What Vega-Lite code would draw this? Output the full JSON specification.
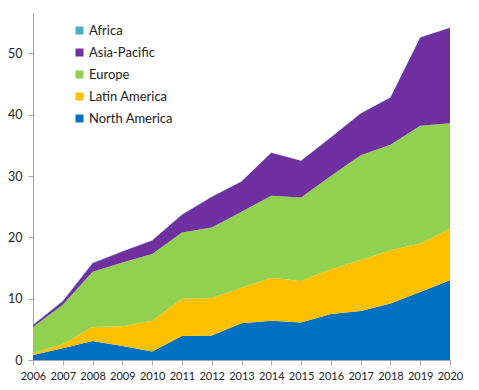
{
  "$schema": "https://vega.github.io/schema/vega-lite/v6.json",
  "width": 417,
  "height": 347,
  "autosize": "none",
  "padding": {"left": 33, "top": 13, "right": 29, "bottom": 30},
  "background": "white",
  "config": {"view": {"stroke": null}, "font": "Lato"},
  "data": {"values": [
    {"year": 2006, "region": "North America", "value": 0.8},
    {"year": 2007, "region": "North America", "value": 1.9},
    {"year": 2008, "region": "North America", "value": 3.1},
    {"year": 2009, "region": "North America", "value": 2.3},
    {"year": 2010, "region": "North America", "value": 1.4},
    {"year": 2011, "region": "North America", "value": 3.9},
    {"year": 2012, "region": "North America", "value": 4.0},
    {"year": 2013, "region": "North America", "value": 6.0},
    {"year": 2014, "region": "North America", "value": 6.4},
    {"year": 2015, "region": "North America", "value": 6.1},
    {"year": 2016, "region": "North America", "value": 7.5},
    {"year": 2017, "region": "North America", "value": 8.0},
    {"year": 2018, "region": "North America", "value": 9.2},
    {"year": 2019, "region": "North America", "value": 11.1},
    {"year": 2020, "region": "North America", "value": 13.0},
    {"year": 2006, "region": "Latin America", "value": 0.3},
    {"year": 2007, "region": "Latin America", "value": 0.7},
    {"year": 2008, "region": "Latin America", "value": 2.3},
    {"year": 2009, "region": "Latin America", "value": 3.2},
    {"year": 2010, "region": "Latin America", "value": 5.0},
    {"year": 2011, "region": "Latin America", "value": 6.1},
    {"year": 2012, "region": "Latin America", "value": 6.1},
    {"year": 2013, "region": "Latin America", "value": 5.8},
    {"year": 2014, "region": "Latin America", "value": 7.0},
    {"year": 2015, "region": "Latin America", "value": 6.8},
    {"year": 2016, "region": "Latin America", "value": 7.3},
    {"year": 2017, "region": "Latin America", "value": 8.3},
    {"year": 2018, "region": "Latin America", "value": 8.7},
    {"year": 2019, "region": "Latin America", "value": 7.9},
    {"year": 2020, "region": "Latin America", "value": 8.4},
    {"year": 2006, "region": "Europe", "value": 4.3},
    {"year": 2007, "region": "Europe", "value": 6.4},
    {"year": 2008, "region": "Europe", "value": 9.0},
    {"year": 2009, "region": "Europe", "value": 10.4},
    {"year": 2010, "region": "Europe", "value": 10.9},
    {"year": 2011, "region": "Europe", "value": 10.8},
    {"year": 2012, "region": "Europe", "value": 11.5},
    {"year": 2013, "region": "Europe", "value": 12.4},
    {"year": 2014, "region": "Europe", "value": 13.4},
    {"year": 2015, "region": "Europe", "value": 13.6},
    {"year": 2016, "region": "Europe", "value": 15.2},
    {"year": 2017, "region": "Europe", "value": 17.1},
    {"year": 2018, "region": "Europe", "value": 17.2},
    {"year": 2019, "region": "Europe", "value": 19.2},
    {"year": 2020, "region": "Europe", "value": 17.2},
    {"year": 2006, "region": "Asia-Pacific", "value": 0.3},
    {"year": 2007, "region": "Asia-Pacific", "value": 0.6},
    {"year": 2008, "region": "Asia-Pacific", "value": 1.4},
    {"year": 2009, "region": "Asia-Pacific", "value": 1.8},
    {"year": 2010, "region": "Asia-Pacific", "value": 2.2},
    {"year": 2011, "region": "Asia-Pacific", "value": 2.9},
    {"year": 2012, "region": "Asia-Pacific", "value": 5.0},
    {"year": 2013, "region": "Asia-Pacific", "value": 4.9},
    {"year": 2014, "region": "Asia-Pacific", "value": 7.0},
    {"year": 2015, "region": "Asia-Pacific", "value": 6.0},
    {"year": 2016, "region": "Asia-Pacific", "value": 6.3},
    {"year": 2017, "region": "Asia-Pacific", "value": 6.8},
    {"year": 2018, "region": "Asia-Pacific", "value": 7.7},
    {"year": 2019, "region": "Asia-Pacific", "value": 14.4},
    {"year": 2020, "region": "Asia-Pacific", "value": 15.6},
    {"year": 2006, "region": "Africa", "value": 0.05},
    {"year": 2007, "region": "Africa", "value": 0.05},
    {"year": 2008, "region": "Africa", "value": 0.05},
    {"year": 2009, "region": "Africa", "value": 0.05},
    {"year": 2010, "region": "Africa", "value": 0.05},
    {"year": 2011, "region": "Africa", "value": 0.05},
    {"year": 2012, "region": "Africa", "value": 0.05},
    {"year": 2013, "region": "Africa", "value": 0.05},
    {"year": 2014, "region": "Africa", "value": 0.05},
    {"year": 2015, "region": "Africa", "value": 0.05},
    {"year": 2016, "region": "Africa", "value": 0.05},
    {"year": 2017, "region": "Africa", "value": 0.05},
    {"year": 2018, "region": "Africa", "value": 0.05},
    {"year": 2019, "region": "Africa", "value": 0.05},
    {"year": 2020, "region": "Africa", "value": 0.05}
  ]},
  "mark": {"type": "area", "interpolate": "linear"},
  "encoding": {
    "x": {
      "field": "year", "type": "quantitative",
      "scale": {"domain": [2006, 2020], "nice": false, "zero": false},
      "axis": {
        "title": null, "values": [2006,2007,2008,2009,2010,2011,2012,2013,2014,2015,2016,2017,2018,2019,2020],
        "format": "d", "grid": false, "domainColor": "#A6A6A6", "tickColor": "#A6A6A6",
        "tickSize": 5, "labelFontSize": 11, "labelColor": "#222222", "labelPadding": 5,
        "labelFlush": false, "labelOverlap": false
      }
    },
    "y": {
      "field": "value", "type": "quantitative", "stack": "zero",
      "scale": {"domain": [0, 56.6], "nice": false},
      "axis": {
        "title": null, "values": [0,10,20,30,40,50], "grid": false,
        "domainColor": "#A6A6A6", "tickColor": "#A6A6A6", "tickSize": 5,
        "labelFontSize": 12.5, "labelColor": "#222222", "labelPadding": 6
      }
    },
    "color": {
      "field": "region", "type": "nominal",
      "scale": {
        "domain": ["Africa", "Asia-Pacific", "Europe", "Latin America", "North America"],
        "range": ["#4BACC6", "#7030A0", "#92D050", "#FFC000", "#0070C0"]
      },
      "legend": {
        "title": null, "orient": "none", "legendX": 40, "legendY": 11,
        "symbolType": "square", "symbolSize": 64, "symbolStrokeWidth": 0,
        "labelFontSize": 13, "labelColor": "#222222", "rowPadding": 8, "labelOffset": 3
      }
    },
    "order": {"field": "region", "sort": "descending"}
  }
}
